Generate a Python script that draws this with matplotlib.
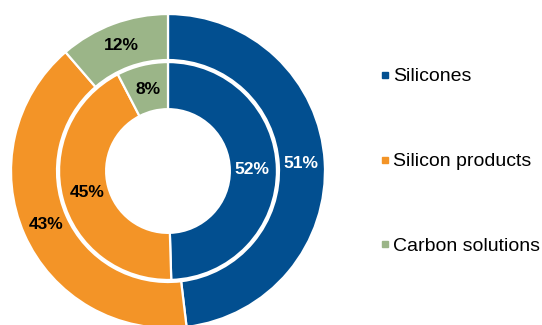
import matplotlib.pyplot as plt
from matplotlib.lines import Line2D
import numpy as np

plt.rcParams['font.family'] = ['Liberation Sans', 'DejaVu Sans']

# Segments and their shares (outer ring and inner ring)
segments = ['Silicones', 'Silicon products', 'Carbon solutions']
outer_values = [51, 43, 12]
inner_values = [52, 45, 8]
colors = ['#024F90', '#F39427', '#9BB588']
outer_label_colors = ['white', 'black', 'black']
inner_label_colors = ['white', 'black', 'black']

fig = plt.figure(figsize=(5.42, 3.25), dpi=100)
ax = fig.add_axes([0.0203, -0.0092, 0.5793, 0.966])


def ring(values, radius, width, label_r, label_colors):
    wedges, _ = ax.pie(values, radius=radius, colors=colors, startangle=90,
                       counterclock=False,
                       wedgeprops=dict(width=width, edgecolor='white', linewidth=1.6))
    for w, v, c in zip(wedges, values, label_colors):
        ang = np.deg2rad((w.theta1 + w.theta2) / 2)
        ax.text(label_r * np.cos(ang), label_r * np.sin(ang), f'{v}%',
                ha='center', va='center', fontsize=12.5, fontweight='bold', color=c)
    return wedges


wedges = ring(outer_values, 1.0, 0.293, 0.85, outer_label_colors)
ring(inner_values, 0.694, 0.3, 0.535, inner_label_colors)
ax.set_xlim(-1, 1)
ax.set_ylim(-1, 1)

handles = [Line2D([], [], marker='s', linestyle='none', markersize=3.8,
                  markerfacecolor=c, markeredgecolor=c) for c in colors]
fig.legend(handles, segments, loc='center left', bbox_to_anchor=(0.6828, 0.503),
           frameon=False, fontsize=14, labelspacing=3.46, handlelength=0.5,
           handletextpad=0.18, borderpad=0)

fig.savefig('out.png', dpi=100)
